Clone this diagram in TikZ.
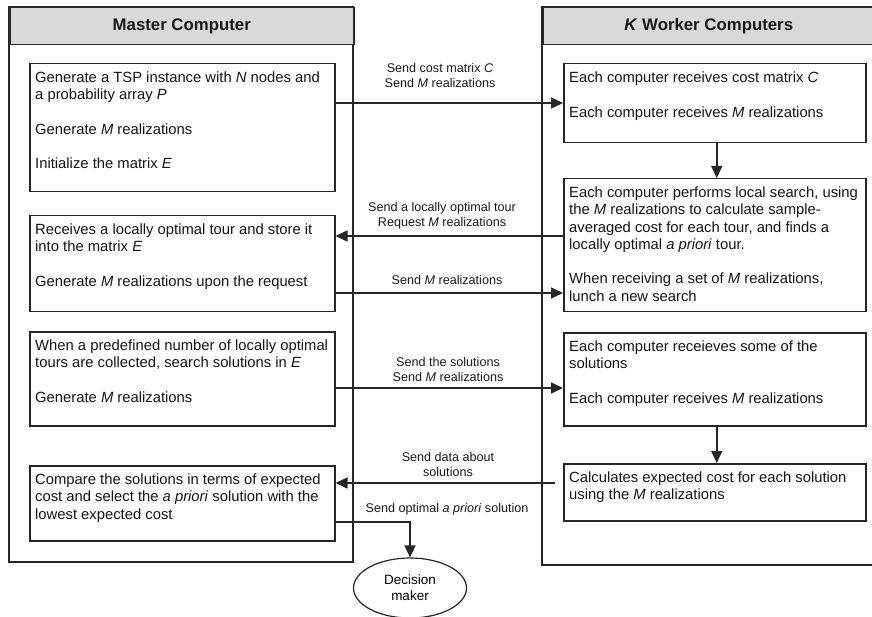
\documentclass[tikz,border=0pt]{standalone}
\usepackage{fontspec}
\setmainfont{Liberation Sans}
\usetikzlibrary{arrows.meta,shapes,calc}

\tikzset{
  panel/.style={draw=black!85, line width=1.5pt},
  head/.style={draw=black!85, line width=1.5pt, fill=black!15, anchor=north west, inner sep=0pt,
    minimum height=37pt, font=\fontsize{16.8}{20}\selectfont\bfseries, text=black!90},
  task/.style={draw=black!85, line width=1.5pt, anchor=north west, inner sep=0pt},
  tasktext/.style={anchor=north west, align=left, inner xsep=6pt, inner ysep=8.5pt,
    font=\fontsize{14.8}{17.3}\selectfont, text=black!92},
  msg/.style={align=center, font=\fontsize{12.6}{15}\selectfont, text=black!90},
  link/.style={draw=black!85, line width=1.5pt, -{Triangle[length=12pt,width=11pt]}},
}

\begin{document}
\begin{tikzpicture}[x=1pt,y=-1pt]
\useasboundingbox (0,0) rectangle (872,617);

% the two columns
\draw[panel] (9,7) rectangle (353,562);
\node[head, minimum width=344pt] (mhead) at (9,7) {Master Computer};
\draw[panel] (542,7) rectangle (874,565);
\node[head, minimum width=332pt] (whead) at (542,7) {\textit{K} Worker Computers};

% master side
\node[task, minimum width=305pt, minimum height=128pt] (m1) at (29,63) {};
\node[tasktext] at (m1.north west) {Generate a TSP instance with \textit{N} nodes and\\a probability array \textit{P}\\[17.3pt]Generate \textit{M} realizations\\[17.3pt]Initialize the matrix \textit{E}};
\node[task, minimum width=305pt, minimum height=96pt] (m2) at (29,215) {};
\node[tasktext] at (m2.north west) {Receives a locally optimal tour and store it\\into the matrix \textit{E}\\[17.3pt]Generate \textit{M} realizations upon the request};
\node[task, minimum width=305pt, minimum height=94pt] (m3) at (29,331) {};
\node[tasktext] at (m3.north west) {When a predefined number of locally optimal\\tours are collected, search solutions in \textit{E}\\[17.3pt]Generate \textit{M} realizations};
\node[task, minimum width=305pt, minimum height=75pt] (m4) at (29,465) {};
\node[tasktext] at (m4.north west) {Compare the solutions in terms of expected\\cost and select the \textit{a priori} solution with the\\lowest expected cost};

% worker side
\node[task, minimum width=302pt, minimum height=79pt] (w1) at (563,63) {};
\node[tasktext] at (w1.north west) {Each computer receives cost matrix \textit{C}\\[17.3pt]Each computer receives \textit{M} realizations};
\node[task, minimum width=302pt, minimum height=133pt] (w2) at (563,178) {};
\node[tasktext] at (w2.north west) {Each computer performs local search, using\\the \textit{M} realizations to calculate sample-\\averaged cost for each tour, and finds a\\locally optimal \textit{a priori} tour.\\[17.3pt]When receiving a set of \textit{M} realizations,\\lunch a new search};
\node[task, minimum width=302pt, minimum height=93pt] (w3) at (563,332) {};
\node[tasktext] at (w3.north west) {Each computer receieves some of the\\solutions\\[17.3pt]Each computer receives \textit{M} realizations};
\node[task, minimum width=302pt, minimum height=57pt] (w4) at (563,463) {};
\node[tasktext] at (w4.north west) {Calculates expected cost for each solution\\using the \textit{M} realizations};

\node[ellipse, draw=black!85, line width=1.2pt, minimum width=113pt, minimum height=60pt, inner sep=0pt,
  font=\fontsize{13.5}{16}\selectfont, align=center] (dm) at (410,588) {Decision\\maker};

% message levels
\coordinate (r1) at (448,103);
\coordinate (r2) at (448,236);
\coordinate (r3) at (448,293);
\coordinate (r4) at (448,388);
\coordinate (r5) at (448,483);
\coordinate (r6) at (448,522);

\draw[link] (m1.east |- r1) -- (w1.west |- r1);
\draw[link] (w2.west |- r2) -- (m2.east |- r2);
\draw[link] (m2.east |- r3) -- (w2.west |- r3);
\draw[link] (m3.east |- r4) -- (w3.west |- r4);
\draw[link] ([xshift=-8pt]w4.west |- r5) -- (m4.east |- r5);
\draw[link] (m4.east |- r6) -| (dm.north);
\draw[link] ([xshift=2pt]w1.south) -- ([xshift=2pt]w2.north);
\draw[link] ([xshift=2pt]w3.south) -- ([xshift=2pt]w4.north);

% the labels
\node[msg] (l1) at (440,75.5) {Send cost matrix \textit{C}\\Send \textit{M} realizations};
\node[msg] (l2) at (442,216) {Send a locally optimal tour\\Request \textit{M} realizations};
\node[msg] (l3) at (447,280) {Send \textit{M} realizations};
\node[msg] (l4) at (448,369) {Send the solutions\\Send \textit{M} realizations};
\node[msg] (l5) at (448,464) {Send data about\\solutions};
\node[msg] (l6) at (447,509) {Send optimal \textit{a priori} solution};
\end{tikzpicture}
\end{document}
